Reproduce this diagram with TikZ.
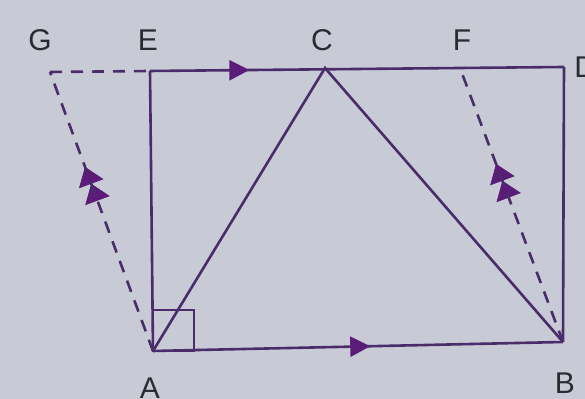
\documentclass[tikz,border=0pt]{standalone}
\usepackage{fontspec}
\setmainfont{Liberation Sans}
\usetikzlibrary{arrows.meta,decorations.markings}
\definecolor{bg}{HTML}{C8CAD6}
\definecolor{ln}{HTML}{4A2C6A}
\definecolor{ah}{HTML}{5A1C78}
\definecolor{tx}{HTML}{2A2A30}
\tikzset{
  seg/.style={draw=ln, line width=1.3pt},
  dsh/.style={draw=ln, line width=1.3pt, dash pattern=on 6pt off 4.5pt},
  lbl/.style={text=tx, font=\fontsize{15}{18}\selectfont, inner sep=0pt},
  onearrow/.style={postaction={decorate}, decoration={markings,
     mark=at position #1 with {\arrow[ah]{Triangle[length=10pt,width=10pt]}}}},
  twoarrow/.style={postaction={decorate}, decoration={markings,
     mark=at position #1 with {\arrow[ah]{Triangle[length=9pt,width=13pt]Triangle[length=9pt,width=13pt]}}}}
}
\begin{document}
\begin{tikzpicture}[x=0.5pt,y=-0.5pt]
\fill[bg] (0,0) rectangle (585,399);
\useasboundingbox (0,0) rectangle (585,399);
\coordinate (G) at (50,72);
\coordinate (E) at (150,71);
\coordinate (C) at (325,68);
\coordinate (F) at (460,68);
\coordinate (D) at (564,67);
\coordinate (A) at (153,351);
\coordinate (B) at (563,342);
% right angle
\draw[seg, line width=1.1pt] (153,310) rectangle (194,351);
% dashed lines
\draw[dsh] (G) -- (E);
\path[twoarrow=0.66] (A) -- (G);
\draw[dsh] (A) -- (G);
\path[twoarrow=0.65] (B) -- (F);
\draw[dsh] (B) -- (F);
% solid
\draw[seg, onearrow=0.24] (E) -- (D);
\draw[seg] (D) -- (B);
\draw[seg, onearrow=0.53] (A) -- (B);
\draw[seg] (E) -- (A);
\draw[seg] (A) -- (C) -- (B);
% labels
\node[lbl] (lG) at (40,40) {G};
\node[lbl] (lE) at (148,40) {E};
\node[lbl] (lC) at (322,40) {C};
\node[lbl] (lF) at (462,40) {F};
\node[lbl, anchor=west] (lD) at (574,67) {D};
\node[lbl] (lA) at (150,388) {A};
\node[lbl] (lB) at (565,383) {B};
\end{tikzpicture}
\end{document}
